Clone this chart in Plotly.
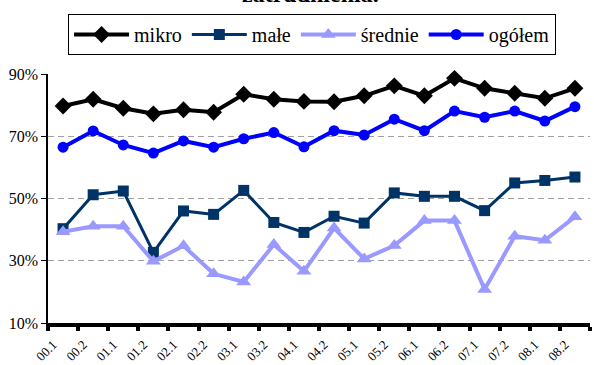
import plotly.graph_objects as go

# Półroczne okresy badania
okresy = ["00.1", "00.2", "01.1", "01.2", "02.1", "02.2", "03.1", "03.2", "04.1",
          "04.2", "05.1", "05.2", "06.1", "06.2", "07.1", "07.2", "08.1", "08.2"]

# Udział firm (%) wg wielkości przedsiębiorstwa
mikro = [79.7, 81.9, 79.0, 77.2, 78.5, 77.7, 83.5, 81.9, 81.2,
         81.1, 83.0, 86.2, 83.0, 88.6, 85.4, 83.8, 82.2, 85.4]
male = [40.3, 51.2, 52.4, 32.7, 46.0, 44.9, 52.6, 42.3, 39.1,
        44.3, 42.1, 51.8, 50.7, 50.7, 46.1, 55.0, 55.8, 56.9]
srednie = [39.3, 41.1, 41.1, 29.8, 34.8, 25.8, 23.2, 35.2, 26.6,
           40.5, 30.6, 34.9, 42.9, 42.9, 20.8, 37.9, 36.6, 44.1]
ogolem = [66.5, 71.7, 67.2, 64.6, 68.5, 66.5, 69.2, 71.2, 66.6,
          71.8, 70.4, 75.5, 71.8, 78.1, 76.1, 78.1, 74.9, 79.5]

y_ticks = [10, 30, 50, 70, 90]
y_labels = [f"{v}%" for v in y_ticks]

serie = [
    ("mikro", mikro, "#000000", "diamond", 13, 4),
    ("małe", male, "#003366", "square", 11, 3),
    ("średnie", srednie, "#9999FF", "triangle-up", 13, 4),
    ("ogółem", ogolem, "#0000FF", "circle", 11, 4),
]

fig = go.Figure()
for nazwa, wartosci, kolor, symbol, rozmiar, grubosc in serie:
    fig.add_trace(go.Scatter(
        x=okresy, y=wartosci, name=nazwa, mode="lines+markers",
        line=dict(color=kolor, width=grubosc),
        marker=dict(symbol=symbol, size=rozmiar, color=kolor),
        cliponaxis=False,
    ))

serif = "Liberation Serif"

fig.update_layout(
    template="none",
    width=594, height=365,
    margin=dict(l=48, r=4, t=74, b=42),
    paper_bgcolor="white", plot_bgcolor="white",
    font=dict(family=serif, color="black"),
    showlegend=True,
    legend=dict(
        orientation="h", x=0.037, xanchor="left", y=1.241, yanchor="top",
        bordercolor="black", borderwidth=1, bgcolor="white",
        font=dict(family=serif, size=20, color="black"),
        itemwidth=55,
    ),
    annotations=[dict(
        text="<b>zatrudnienia.</b>", xref="paper", yref="paper",
        x=0.485, y=1, xanchor="center", yanchor="bottom", yshift=65,
        showarrow=False, font=dict(family=serif, size=24, color="black"),
    )],
)

fig.update_xaxes(
    type="category", range=[-0.5, len(okresy) - 0.5], automargin=False,
    showline=True, linecolor="black", linewidth=4,
    ticks="outside", tickson="boundaries", ticklen=4, tickwidth=4, tickcolor="black",
    tickangle=-45, ticklabelstandoff=5, ticklabelshift=-10,
    tickfont=dict(family=serif, size=13, color="black"),
    showgrid=False, zeroline=False,
)
fig.update_yaxes(
    range=[10, 90], tickvals=y_ticks, ticktext=y_labels, automargin=False,
    showline=True, linecolor="black", linewidth=1.5,
    ticks="outside", ticklen=5, tickwidth=1, tickcolor="black",
    tickfont=dict(family=serif, size=16, color="black"),
    showgrid=True, gridcolor="#a0a0a0", gridwidth=1, griddash="6px,4px",
    zeroline=False,
)

fig.write_html("out.html")
